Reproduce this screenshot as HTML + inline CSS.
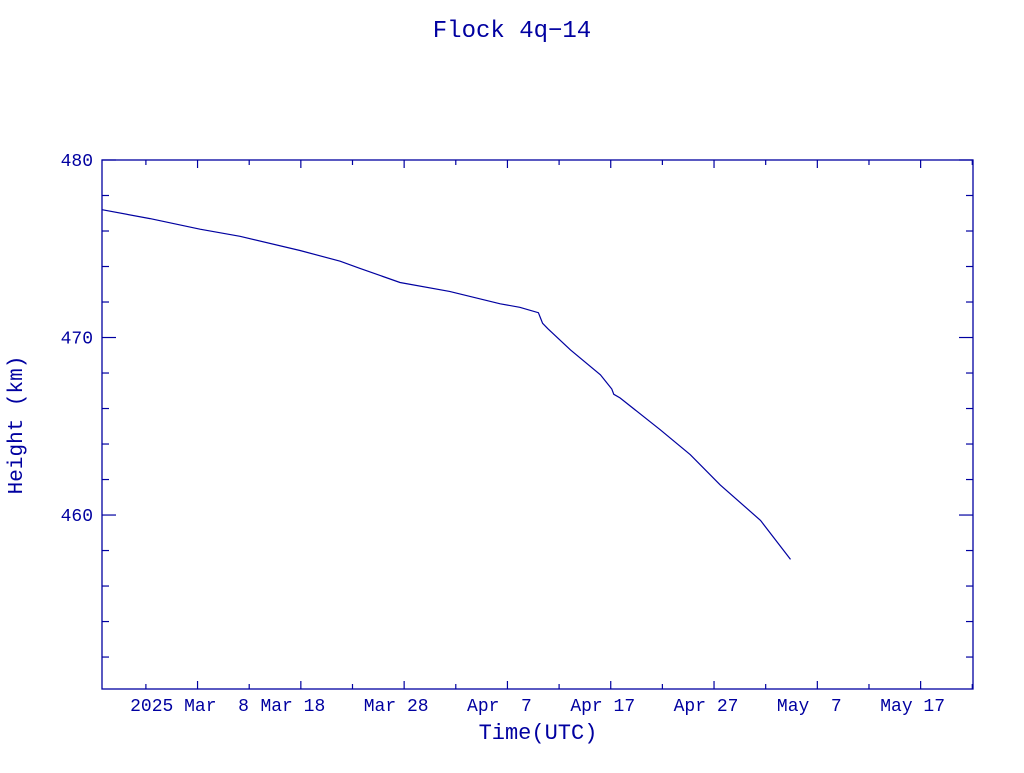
<!DOCTYPE html>
<html><head><meta charset="utf-8"><style>
body{margin:0;background:#fff;}
svg text{font-family:"Liberation Mono",monospace;fill:#0000a0;}
</style></head><body>
<svg id="c" width="1024" height="768">
<text x="512" y="37" font-size="24" text-anchor="middle">Flock 4q−14</text>
<text x="538" y="739" font-size="22" text-anchor="middle">Time(UTC)</text>
<text transform="translate(22,425) rotate(-90)" font-size="21" text-anchor="middle">Height (km)</text>
<rect x="102" y="160" width="871" height="529" fill="none" stroke="#0000a0" stroke-width="1.3"/>
<g id="ax"></g>
<path id="ln" fill="none" stroke="#0000a0" stroke-width="1.2"/>
</svg>
<script>
// days relative to 2025 Mar 8
const days=[-9.25,-4.6,0.24,4.11,9.92,13.8,15.7,19.6,24.4,29.3,31.2,33.0,33.2,33.4,33.9,36.1,39.0,40.1,40.3,40.9,44.8,47.7,50.6,54.5,57.4];
const heights=[477.2,476.7,476.1,475.7,474.9,474.3,473.9,473.1,472.6,471.9,471.7,471.4,471.1,470.8,470.5,469.3,467.9,467.1,466.8,466.6,464.8,463.4,461.7,459.7,457.5];
const xTickDays=[0,10,20,30,40,50,60,70];
const xTickLabels=["2025 Mar  8","Mar 18","Mar 28","Apr  7","Apr 17","Apr 27","May  7","May 17"];
const yTicks=[460,470,480];
const X0=102,X1=973,Y0=689,Y1=160;
const dMin=-9.25,dMax=75.07,hMin=450.2,hMax=480;
const sx=d=>X0+(d-dMin)/(dMax-dMin)*(X1-X0);
const sy=h=>Y0-(h-hMin)/(hMax-hMin)*(Y0-Y1);
const NS="http://www.w3.org/2000/svg",ax=document.getElementById('ax');
function ln(x1,y1,x2,y2){const l=document.createElementNS(NS,'line');l.setAttribute('x1',x1);l.setAttribute('y1',y1);l.setAttribute('x2',x2);l.setAttribute('y2',y2);l.setAttribute('stroke','#0000a0');l.setAttribute('stroke-width','1.2');


ax.appendChild(l);}
for(let d=-5;d<=75;d+=5){const x=sx(d),L=(d%10===0)?8:5;ln(x,Y0,x,Y0-L);ln(x,Y1,x,Y1+L);}
for(let h=452;h<=480;h+=2){const y=sy(h),L=(h%10===0)?14:7;ln(X0,y,X0+L,y);ln(X1,y,X1-L,y);}
xTickDays.forEach((d,i)=>{const t=document.createElementNS(NS,'text');t.setAttribute('x',sx(d)-8);t.setAttribute('y',711);t.setAttribute('font-size','18');t.setAttribute('text-anchor','middle');t.setAttribute('xml:space','preserve');t.style.whiteSpace='pre';t.textContent=xTickLabels[i];


ax.appendChild(t);});
yTicks.forEach(h=>{const t=document.createElementNS(NS,'text');t.setAttribute('x',93);t.setAttribute('y',sy(h)+6);t.setAttribute('font-size','18');t.setAttribute('text-anchor','end');t.textContent=h;


ax.appendChild(t);});
document.getElementById('ln').setAttribute('d',days.map((d,i)=>(i?'L':'M')+sx(d).toFixed(1)+','+sy(heights[i]).toFixed(1)).join(''));
</script>
</body></html>
